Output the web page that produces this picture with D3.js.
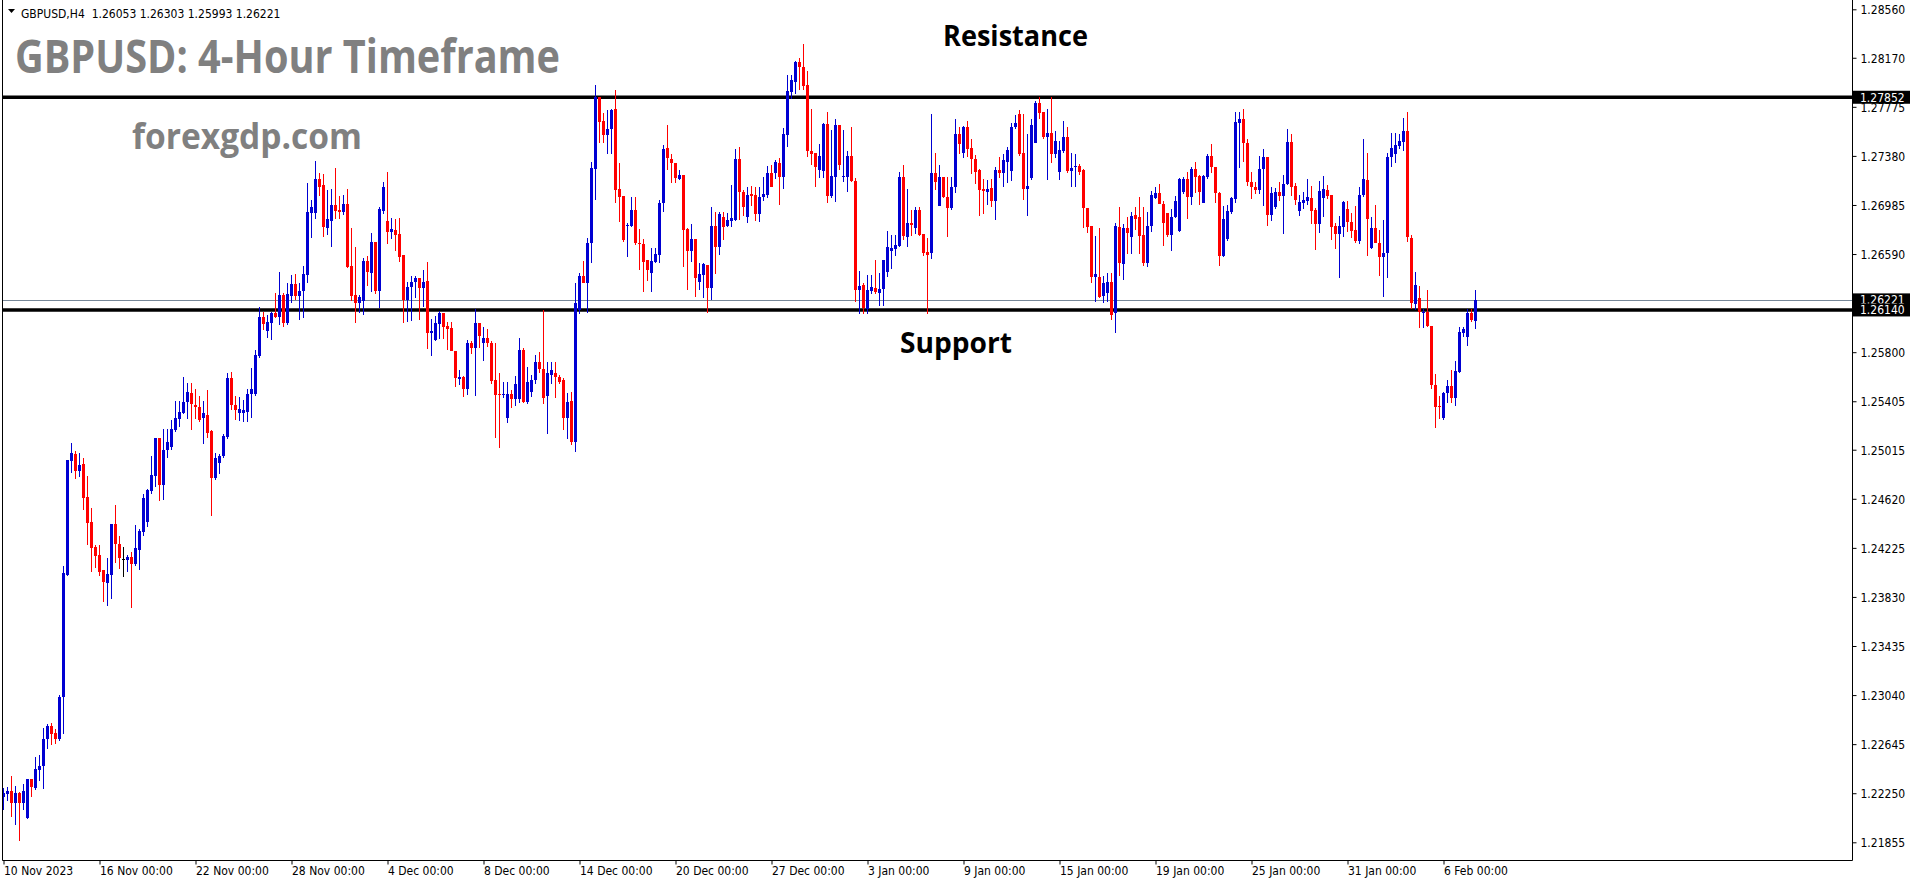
<!DOCTYPE html>
<html>
<head>
<meta charset="utf-8">
<script src="https://cdn.jsdelivr.net/npm/d3@7"></script>
<style>
  html, body { margin: 0; padding: 0; background: #ffffff; }
  svg { display: block; }
  .ax text { font-family: "DejaVu Sans Condensed", "DejaVu Sans", sans-serif; font-stretch: condensed; font-size: 12px; fill: #000; }
</style>
</head>
<body>
<svg id="chart" width="1916" height="884"></svg>
<script>
// ---------------- DATA ----------------
const symbolLabel = "GBPUSD,H4";
const titleText = "GBPUSD: 4-Hour Timeframe";
const siteText = "forexgdp.com";
const resistanceLabel = "Resistance";
const supportLabel = "Support";

const resistanceLevel = 1.27852;
const supportLevel = 1.26140;
const bidLevel = 1.26221;

const priceTicks = [1.28560, 1.28170, 1.27775, 1.27380, 1.26985, 1.26590, 1.25800,
  1.25405, 1.25015, 1.24620, 1.24225, 1.23830, 1.23435, 1.23040, 1.22645, 1.22250, 1.21855];

const timeTickBars = [0, 24, 48, 72, 96, 120, 144, 168, 192, 216, 240, 264, 288, 312, 336, 360];
const timeTickLabels = ["10 Nov 2023", "16 Nov 00:00", "22 Nov 00:00", "28 Nov 00:00", "4 Dec 00:00",
  "8 Dec 00:00", "14 Dec 00:00", "20 Dec 00:00", "27 Dec 00:00", "3 Jan 00:00", "9 Jan 00:00",
  "15 Jan 00:00", "19 Jan 00:00", "25 Jan 00:00", "31 Jan 00:00", "6 Feb 00:00"];

// H4 candles, 10 Nov 2023 00:00 ... 7 Feb 2024 08:00 (values x 1e-5)
const opens = [122219,122243,122267,122171,122251,122171,122050,122364,122292,122437,122469,122686,122791,122734,122686,123024,124010,124924,124980,124843,124900,124634,124433,124232,124167,124047,123942,124006,124417,124256,124135,124127,124151,124095,124208,124352,124433,124683,124803,125109,124731,125013,125037,125174,125262,125310,125399,125471,125375,125359,125270,125294,125166,124787,124908,124964,125117,125592,125375,125310,125310,125318,125463,125463,125769,126083,125970,126035,126115,126083,126260,126035,126252,126349,126252,126292,126421,126920,126920,127194,127146,126800,126856,126985,126945,126928,126993,126494,126260,126196,126212,126534,126437,126687,126292,126936,126856,126767,126784,126751,126582,126220,126325,126365,126397,126317,126373,125954,125898,126027,126115,126011,125995,125810,125584,125600,125504,125874,125834,126035,125874,125914,125874,125576,125463,125455,125270,125463,125423,125423,125818,125399,125479,125576,125721,125665,125447,125616,125632,125600,125576,125270,125407,125077,126140,126413,126357,126679,127275,127854,127661,127548,127597,127758,127114,127057,126816,126816,126945,126679,126671,126542,126437,126526,126582,127001,127444,127355,127323,127194,127226,126792,126615,126711,126365,126421,126502,126317,126816,126647,126888,126816,126856,126864,127355,127089,126888,127073,127065,126912,127049,127065,127242,127242,127323,127210,127548,127894,127975,128136,128096,127951,127419,127403,127267,127259,127637,127057,127210,127629,127210,127210,127379,127178,126301,126341,126148,126292,126317,126276,126309,126445,126615,126631,126655,127210,126727,126840,126800,126945,126751,126606,126598,127242,126977,127210,127049,126961,127130,127556,127403,127613,127444,127355,127267,127114,127089,127122,127017,127267,127242,127331,127259,127613,127717,127403,127114,127202,127484,127806,127733,127532,127564,127395,127250,127420,127532,127259,127291,127299,127267,126961,126816,126405,126405,126252,126276,126365,126115,126808,126510,126800,126727,126904,126888,126743,126518,126816,127041,127081,126993,126920,126743,126888,126775,127089,127194,127049,127275,127218,127001,127210,127379,127291,127081,126574,126711,126928,127033,127645,127677,127484,127170,127130,127106,127275,127371,126904,126969,127089,127057,127154,127492,127138,126936,127001,127017,127041,126945,126832,127041,127106,127065,126816,126751,126808,126953,126848,126784,126695,127065,127186,126639,126800,126679,126566,126598,127371,127395,127460,127492,127580,126719,126188,126236,126115,126123,126011,125536,125367,125270,125471,125528,125431,125640,125954,125922,126115,126053];
const highs = [122292,122300,122388,122308,122259,122324,122364,122364,122541,122557,122775,122807,122815,122767,123040,124079,124932,125069,125004,124988,124948,124803,124546,124248,124248,124047,124143,124417,124570,124320,124232,124167,124191,124409,124377,124658,124699,124964,125109,125109,125182,125182,125254,125407,125407,125600,125552,125552,125504,125447,125407,125496,125174,124988,124980,125141,125632,125640,125447,125439,125415,125504,125673,125818,126164,126123,126099,126123,126276,126445,126276,126357,126421,126429,126357,126494,127162,127025,127339,127242,127234,127106,127114,127283,127057,127065,127114,126800,126647,126260,126558,126574,126759,126687,126969,127170,127250,126880,126872,126880,126582,126365,126413,126413,126397,126462,126526,126067,126091,126131,126115,126043,126043,125810,125657,125608,125898,125890,126148,126035,126003,125987,125890,125874,125632,125560,125560,125496,125608,125914,125834,125681,125616,125777,125801,126140,125721,125721,125721,125616,125592,125471,125479,126357,126437,126534,126719,127331,127951,127854,127725,127750,127758,127911,127323,127057,126840,127049,127049,126792,126711,126542,126639,126639,127025,127468,127629,127395,127323,127267,127226,126800,126832,126711,126518,126518,126502,126969,126928,126928,126928,126920,127146,127436,127452,127106,127130,127138,127130,127130,127210,127299,127307,127347,127363,127605,128031,128031,128144,128168,128281,128063,127758,127403,127476,127645,127733,127589,127677,127629,127589,127419,127613,127202,126453,126357,126421,126421,126542,126437,126542,126775,126743,126743,127250,127307,127114,126945,126969,126969,126751,126719,127717,127403,127307,127210,127210,127210,127677,127613,127621,127661,127516,127387,127275,127194,127186,127194,127291,127371,127395,127452,127645,127709,127750,127717,127556,127677,127822,127854,127733,127758,127854,127580,127500,127661,127613,127403,127395,127315,127275,126961,126816,126735,126800,126413,126437,126437,126840,126969,126832,126888,126928,126969,127049,126969,126928,127097,127130,127154,127017,126920,126953,127057,127202,127210,127250,127291,127331,127226,127226,127395,127476,127291,127089,126977,126985,127049,127733,127733,127758,127516,127250,127170,127379,127436,127371,127130,127122,127170,127226,127597,127556,127162,127065,127089,127194,127138,126961,127178,127218,127146,127065,126840,126896,127017,127017,126920,126977,127130,127516,127403,126888,126985,126784,126864,127403,127564,127564,127556,127685,127733,126743,126445,126333,126148,126301,126011,125624,125447,125479,125576,125657,125729,126003,126003,126148,126148,126303];
const lows = [122115,122195,122066,122002,121873,122123,122050,122227,122284,122356,122292,122614,122646,122654,122678,122734,124006,124835,124787,124803,124530,124256,124038,124063,124006,123797,123765,123821,124111,124055,123998,124038,123741,124079,124047,124328,124393,124666,124715,124610,124618,124956,125013,125158,125198,125310,125270,125174,125270,125246,125069,125117,124489,124779,124827,124956,125109,125335,125262,125254,125246,125246,125278,125455,125761,125979,125922,125906,126083,126019,126003,126019,126196,126228,126067,126083,126357,126727,126880,127065,126735,126751,126647,126880,126880,126912,126478,126220,126035,126123,126107,126333,126292,126276,126156,126920,126671,126719,126615,126526,126035,126051,126059,126244,126067,126164,125826,125777,125898,125914,125914,125818,125810,125520,125536,125447,125463,125793,125455,125834,125737,125842,125552,125117,125029,125439,125238,125351,125367,125399,125399,125391,125447,125544,125640,125391,125149,125552,125439,125552,125174,125109,125053,124997,126115,126357,126123,126518,127033,127484,127484,127403,127403,127001,126848,126687,126574,126808,126663,126462,126292,126381,126292,126518,126518,126936,127267,127162,127162,127186,126486,126301,126526,126252,126301,126244,126123,126228,126437,126590,126711,126808,126808,126856,126872,126904,126840,126977,126864,126848,127017,127049,127130,127202,126985,127114,127452,127838,127886,127911,127911,127379,127307,127130,127210,127210,127001,127049,127009,127267,127170,127097,127170,126212,126115,126115,126115,126276,126276,126172,126172,126413,126470,126582,126647,126711,126647,126743,126759,126743,126582,126115,126558,127106,126977,127049,126735,126945,127089,127403,127371,127379,127242,127154,126904,126920,126985,126969,126872,127210,127130,127162,127178,127597,127387,127033,126904,127194,127484,127685,127524,127194,127323,127371,127186,127411,127250,127130,127130,127234,126800,126767,126357,126204,126244,126196,126212,126067,125962,126421,126389,126598,126598,126784,126598,126494,126486,126775,127041,126993,126655,126735,126615,126888,126775,127081,126880,126985,127089,126985,127001,127202,127250,127001,126494,126574,126703,126920,127001,127283,127331,127138,127041,127081,127081,126977,126816,126864,126953,127017,126759,127146,127065,126985,126904,126953,126985,126832,126623,126767,126896,127041,126711,126631,126405,126735,126775,126727,126679,126671,127057,126582,126631,126679,126421,126252,126405,127291,127323,127436,127420,126687,126148,126140,125995,125995,126003,125504,125190,125270,125262,125399,125399,125367,125640,125930,125850,126051,125993];
const closes = [122251,122267,122171,122251,122171,122267,122364,122300,122445,122469,122686,122791,122726,122686,123024,124022,124932,124988,124843,124892,124626,124425,124224,124159,124030,123950,124014,124417,124256,124143,124135,124151,124095,124224,124360,124626,124691,124811,125109,124731,125013,125077,125182,125270,125318,125399,125479,125383,125359,125254,125310,125149,124787,124948,124964,125125,125592,125375,125335,125343,125335,125463,125504,125777,126083,126027,126043,126115,126083,126260,126035,126268,126349,126252,126292,126429,126928,126969,127194,127130,126808,126872,126985,126936,126928,126993,126486,126252,126196,126244,126534,126445,126687,126292,126953,127130,126767,126792,126743,126566,126220,126325,126365,126397,126317,126365,125954,125970,126035,126115,126003,125987,125810,125592,125600,125504,125874,125834,126035,125930,125914,125874,125568,125455,125455,125463,125463,125423,125544,125818,125399,125560,125576,125721,125665,125431,125632,125657,125600,125560,125270,125399,125077,126196,126413,126357,126679,127283,127854,127653,127548,127597,127750,127106,127049,126703,126824,126945,126679,126671,126526,126462,126534,126590,127001,127436,127363,127323,127202,127226,126784,126615,126711,126397,126429,126510,126317,126816,126647,126912,126808,126864,126880,127355,127089,126969,127065,127057,126912,127049,127073,127242,127130,127331,127210,127556,127902,127991,128136,128096,127943,127419,127395,127291,127379,127637,127057,127218,127629,127307,127218,127379,127178,126301,126333,126156,126301,126325,126284,126309,126542,126647,126639,126663,127210,126735,126840,126824,126945,126743,126598,126582,127242,127170,127210,127049,126961,127130,127556,127476,127613,127436,127355,127250,127106,127098,127114,127017,127267,127242,127347,127428,127613,127645,127395,127114,127138,127629,127806,127725,127532,127564,127395,127500,127428,127532,127259,127283,127299,127250,126961,126808,126405,126429,126244,126357,126365,126099,126816,126518,126800,126759,126896,126872,126735,126518,126816,127065,127081,126993,126840,126743,126888,127017,127194,127194,127049,127275,127210,127089,127218,127379,127291,127081,126574,126872,126936,127041,127653,127677,127484,127170,127130,127106,127275,127371,126904,127081,127089,127057,127154,127492,127130,127025,127009,127025,127049,126936,126832,127097,127114,127057,126808,126751,126816,127009,126848,126775,126695,127065,127194,126872,126800,126679,126566,126598,127371,127444,127468,127500,127580,126727,126196,126341,126123,126123,126011,125536,125359,125359,125471,125528,125431,125648,125962,125987,126115,126059,126221];

// ---------------- DRAWING ----------------
const P = 1e5;
const svg = d3.select("#chart");
svg.append("rect").attr("width", 1916).attr("height", 884).attr("fill", "#ffffff");

const plot = { left: 2, right: 1852, top: 0, bottom: 860 };
const x = d3.scaleLinear().domain([0, 462]).range([3.5, 1851.5]);
const y = d3.scaleLinear().domain([1.21855, 1.28560]).range([842.3, 9.3]);

const candles = opens.map((o, i) => ({ i, o: o / P, h: highs[i] / P, l: lows[i] / P, c: closes[i] / P }));
const colorOf = d => d.c > d.o ? "#0000d2" : (d.c < d.o ? "#ff0000" : "#000000");

// level lines (drawn under candles)
svg.append("line").attr("x1", plot.left).attr("x2", plot.right)
  .attr("y1", Math.round(y(bidLevel)) + 0.5).attr("y2", Math.round(y(bidLevel)) + 0.5)
  .attr("stroke", "#778899").attr("stroke-width", 1);
[resistanceLevel, supportLevel].forEach(v => {
  svg.append("line").attr("x1", plot.left).attr("x2", plot.right)
    .attr("y1", y(v)).attr("y2", y(v))
    .attr("stroke", "#000").attr("stroke-width", 3.5);
});

const g = svg.append("g").attr("shape-rendering", "crispEdges");
g.selectAll("line.wick").data(candles).join("line").attr("class", "wick")
  .attr("x1", d => x(d.i)).attr("x2", d => x(d.i))
  .attr("y1", d => y(Math.max(d.h, d.o, d.c))).attr("y2", d => y(Math.min(d.l, d.o, d.c)) + 0.5)
  .attr("stroke", colorOf).attr("stroke-width", 1);
g.selectAll("rect.body").data(candles).join("rect").attr("class", "body")
  .attr("x", d => x(d.i) - 1.5).attr("width", 3)
  .attr("y", d => y(Math.max(d.o, d.c)))
  .attr("height", d => Math.max(1, Math.abs(y(d.o) - y(d.c))))
  .attr("fill", colorOf);

// frame
svg.append("path")
  .attr("d", `M${plot.left + 0.5},0 V${plot.bottom + 0.5} H${plot.right + 0.5} V0`)
  .attr("fill", "none").attr("stroke", "#000").attr("stroke-width", 1);

// right price axis
const yAxis = d3.axisRight(y).tickValues(priceTicks).tickFormat(d3.format(".5f")).tickSize(4).tickPadding(4);
const ya = svg.append("g").attr("class", "ax").attr("transform", `translate(${plot.right + 0.5},0)`).call(yAxis);
ya.select(".domain").remove();
ya.selectAll("line").attr("stroke", "#000");
ya.selectAll("text").attr("dy", "0.36em");

// bottom time axis
const xAxis = d3.axisBottom(x).tickValues(timeTickBars).tickFormat((d, i) => timeTickLabels[i]).tickSize(4).tickPadding(2);
const xa = svg.append("g").attr("class", "ax").attr("transform", `translate(0,${plot.bottom + 0.5})`).call(xAxis);
xa.select(".domain").remove();
xa.selectAll("line").attr("stroke", "#000");
xa.selectAll("text").attr("text-anchor", "start").attr("x", 0).attr("y", 6).attr("dy", "0.71em");

// price marker boxes
const fmt5 = d3.format(".5f");
[resistanceLevel, bidLevel, supportLevel].forEach(v => {
  const yy = y(v);
  svg.append("rect").attr("x", plot.right + 1).attr("y", yy - 6.5).attr("width", 57).attr("height", 13).attr("fill", "#000");
  svg.append("text").attr("x", 1860).attr("y", yy).attr("dy", "0.36em")
    .style("font-family", '"DejaVu Sans Condensed","DejaVu Sans",sans-serif').style("font-stretch", "condensed")
    .style("font-size", "12px").attr("fill", "#fff").text(fmt5(v));
});

// header
svg.append("path").attr("d", "M8,9 L15,9 L11.5,13 Z").attr("fill", "#000");
const last = candles[candles.length - 1];
svg.append("text").attr("x", 21).attr("y", 18)
  .style("font-family", '"DejaVu Sans Condensed","DejaVu Sans",sans-serif').style("font-stretch", "condensed")
  .style("font-size", "12px").attr("fill", "#000").attr("xml:space", "preserve")
  .text(`${symbolLabel}  ${fmt5(last.o)} ${fmt5(last.h)} ${fmt5(last.l)} ${fmt5(last.c)}`);

// annotations
svg.append("text").attr("x", 15).attr("y", 73).attr("textLength", 545).attr("lengthAdjust", "spacingAndGlyphs")
  .style("font-family", '"Open Sans",sans-serif').style("font-weight", 700).style("font-size", "46px")
  .attr("fill", "#808080").text(titleText);
svg.append("text").attr("x", 132).attr("y", 149).attr("textLength", 230).attr("lengthAdjust", "spacingAndGlyphs")
  .style("font-family", '"Open Sans",sans-serif').style("font-weight", 700).style("font-size", "35px")
  .attr("fill", "#808080").text(siteText);
svg.append("text").attr("x", 943).attr("y", 46).attr("textLength", 145).attr("lengthAdjust", "spacingAndGlyphs")
  .style("font-family", '"Open Sans",sans-serif').style("font-weight", 700).style("font-size", "28px")
  .attr("fill", "#000").text(resistanceLabel);
svg.append("text").attr("x", 900).attr("y", 353).attr("textLength", 112).attr("lengthAdjust", "spacingAndGlyphs")
  .style("font-family", '"Open Sans",sans-serif').style("font-weight", 700).style("font-size", "28px")
  .attr("fill", "#000").text(supportLabel);
</script>
</body>
</html>
